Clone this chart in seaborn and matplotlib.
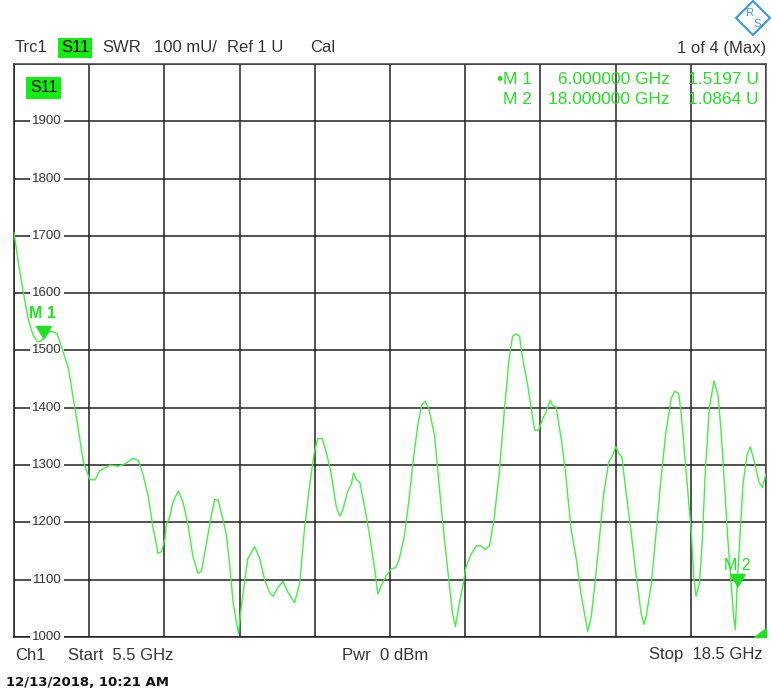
import numpy as np
import pandas as pd
import seaborn as sns
import matplotlib.pyplot as plt
from matplotlib.patches import Polygon

# trace data (GHz, mU)
freq_ghz = [5.50, 5.58, 5.66, 5.75, 5.83, 5.90, 5.95, 6.00, 6.03, 6.12, 6.24, 6.32, 6.44, 6.52,
            6.60, 6.70, 6.81, 6.90, 6.98, 7.16, 7.30, 7.42, 7.56, 7.65, 7.73, 7.82, 7.90, 7.99,
            8.05, 8.11, 8.13, 8.19, 8.25, 8.34, 8.42, 8.51, 8.59, 8.68, 8.74, 8.82, 8.91, 8.97,
            9.03, 9.08, 9.17, 9.23, 9.29, 9.35, 9.38, 9.41, 9.46, 9.54, 9.66, 9.75, 9.83, 9.92,
            9.98, 10.06, 10.15, 10.23, 10.35, 10.44, 10.52, 10.61, 10.69, 10.75, 10.83, 10.90,
            10.98, 11.07, 11.13, 11.18, 11.27, 11.33, 11.37, 11.41, 11.48, 11.56, 11.64, 11.73,
            11.79, 11.85, 11.93, 12.02, 12.10, 12.16, 12.25, 12.33, 12.39, 12.48, 12.55, 12.61,
            12.67, 12.77, 12.85, 12.94, 13.03, 13.08, 13.13, 13.19, 13.26, 13.31, 13.40, 13.49,
            13.57, 13.65, 13.72, 13.80, 13.89, 13.98, 14.06, 14.12, 14.18, 14.24, 14.29, 14.38,
            14.44, 14.50, 14.57, 14.64, 14.70, 14.77, 14.81, 14.87, 14.96, 15.04, 15.13, 15.22,
            15.30, 15.37, 15.42, 15.48, 15.55, 15.62, 15.69, 15.78, 15.85, 15.90, 15.96, 16.01,
            16.08, 16.17, 16.25, 16.34, 16.39, 16.43, 16.52, 16.60, 16.69, 16.77, 16.86, 16.92,
            16.99, 17.03, 17.09, 17.15, 17.21, 17.25, 17.29, 17.35, 17.40, 17.45, 17.52, 17.60,
            17.67, 17.72, 17.78, 17.84, 17.90, 17.94, 17.97, 18.00, 18.04, 18.10, 18.17, 18.23,
            18.30, 18.38, 18.44, 18.50]
swr_mu = [1706, 1650, 1602, 1553, 1527, 1516, 1515, 1520, 1524, 1534, 1530, 1507, 1469, 1420,
          1370, 1305, 1275, 1274, 1290, 1300, 1298, 1302, 1312, 1308, 1284, 1246, 1193, 1146,
          1149, 1171, 1195, 1209, 1236, 1255, 1236, 1195, 1142, 1111, 1115, 1159, 1212, 1240,
          1239, 1218, 1180, 1124, 1059, 1024, 1006, 1036, 1077, 1136, 1158, 1136, 1101, 1077,
          1071, 1086, 1097, 1079, 1060, 1094, 1187, 1264, 1322, 1346, 1346, 1322,
          1287, 1228, 1211, 1220, 1255, 1266, 1286, 1276, 1269, 1228, 1181, 1122,
          1075, 1090, 1106, 1119, 1121, 1136, 1177, 1241, 1299, 1370, 1405, 1411,
          1399, 1352, 1264, 1171, 1089, 1042, 1018, 1054, 1089, 1121, 1144, 1159,
          1159, 1153, 1159, 1206, 1288, 1399, 1487, 1525, 1529, 1525, 1487, 1440,
          1399, 1361, 1361, 1381, 1393, 1413, 1404, 1402, 1346, 1282, 1188, 1136,
          1077, 1036, 1010, 1036, 1101, 1171, 1247, 1305, 1317, 1332, 1320, 1314,
          1253, 1182, 1112, 1042, 1022, 1036, 1095, 1182, 1282, 1358, 1416, 1429,
          1425, 1393, 1323, 1253, 1182, 1106, 1071, 1095, 1171, 1288, 1399, 1447,
          1422, 1364, 1270, 1171, 1089, 1036, 1013, 1086, 1159, 1264, 1317, 1332,
          1305, 1270, 1261, 1285]

marker_names = ["M 1", "M 2"]
marker_freq = [6.0, 18.0]
marker_val = [1519.7, 1086.4]
marker_freq_txt = ["6.000000 GHz", "18.000000 GHz"]
marker_val_txt = ["1.5197 U", "1.0864 U"]
y_ticks = [1000, 1100, 1200, 1300, 1400, 1500, 1600, 1700, 1800, 1900]

GREEN = "#22e022"
TXT = "#333333"
W, H = 771, 697

sns.set_style("white")
plt.rcParams["font.family"] = ["Liberation Sans", "DejaVu Sans"]

def fx(x):
    return x / W

def fy(y):
    return 1 - y / H

fig = plt.figure(figsize=(W / 100, H / 100), dpi=100)
ax = fig.add_axes([fx(14), fy(637), (766 - 14) / W, (637 - 64) / H])

df = pd.DataFrame({"f": freq_ghz, "swr": swr_mu})
sns.lineplot(data=df, x="f", y="swr", ax=ax, color="#44ee44", lw=1.0, zorder=6)

ax.set_xlim(5.5, 18.5)
ax.set_ylim(1000, 2000)
ax.set_xticks(np.linspace(5.5, 18.5, 11))
ax.set_yticks(np.arange(1000, 2001, 100))
ax.grid(True, color="#222222", lw=1.1)
ax.tick_params(length=0, labelleft=False, labelbottom=False)
ax.set_xlabel("")
ax.set_ylabel("")
for side in ax.spines:
    ax.spines[side].set_color("#444444")
    ax.spines[side].set_linewidth(1.1)
ax.spines["left"].set_color("#222222")
ax.spines["bottom"].set_color("#222222")

# y labels sit inside the grid with a white patch behind
for v in y_ticks:
    ax.text(0.044, v, str(v), transform=ax.get_yaxis_transform(), ha="center", va="center",
            fontsize=9.5, color=TXT, zorder=4,
            bbox=dict(facecolor="white", edgecolor="none", pad=1.5))

# markers: triangle with its tip on the trace
tri = [(-0.6, 1.0), (0.6, 1.0), (0.0, 0.0)]
for name, f, v in zip(marker_names, marker_freq, marker_val):
    ax.plot([f], [v], marker=tri, ms=18.7, color=GREEN, mec=GREEN, ls="none", zorder=7)
bold = ["bold", "normal"]
offs = [45, 38]
for name, f, v, b, o in zip(marker_names, marker_freq, marker_val, bold, offs):
    ax.text(f, v + o, name, ha="center", va="center", fontsize=11.5, color=GREEN,
            fontweight=b, zorder=7)

# S11 tag inside plot
fig.text(fx(30), fy(88), "S11", fontsize=11.5, va="center", ha="left", color="black",
         bbox=dict(facecolor="#11ee11", edgecolor="none", pad=2.5), zorder=8)

# marker readout
row_y = [80, 99]
names = ["•M 1", "M 2"]
for a, b, c, y in zip(names, marker_freq_txt, marker_val_txt, row_y):
    fig.text(fx(532), fy(y), a, ha="right", va="center", fontsize=12.5, color=GREEN)
    fig.text(fx(670), fy(y), b, ha="right", va="center", fontsize=12.5, color=GREEN)
    fig.text(fx(759), fy(y), c, ha="right", va="center", fontsize=12.5, color=GREEN)

# header line
hdr_y = fy(48)
fig.text(fx(15), hdr_y, "Trc1", fontsize=12, va="center", color=TXT)
fig.text(fx(61), hdr_y, "S11", fontsize=12, va="center", color="black",
         bbox=dict(facecolor="#11ee11", edgecolor="none", pad=2.0))
fig.text(fx(102), hdr_y, "SWR", fontsize=12, va="center", color=TXT)
fig.text(fx(154), hdr_y, "100 mU/", fontsize=12, va="center", color=TXT)
fig.text(fx(227), hdr_y, "Ref 1 U", fontsize=12, va="center", color=TXT)
fig.text(fx(310), hdr_y, "Cal", fontsize=12, va="center", color=TXT)
fig.text(fx(766), hdr_y, "1 of 4 (Max)", fontsize=12, va="center", ha="right", color=TXT)

# footer
ft_y = fy(655)
fig.text(fx(15), ft_y, "Ch1", fontsize=12, va="center", color=TXT)
fig.text(fx(68), ft_y, "Start  5.5 GHz", fontsize=12, va="center", color=TXT)
fig.text(fx(385), ft_y, "Pwr  0 dBm", fontsize=12, va="center", ha="center", color=TXT)
fig.text(fx(763), ft_y, "Stop  18.5 GHz", fontsize=12, va="center", ha="right", color=TXT)
fig.text(fx(6), fy(682), "12/13/2018, 10:21 AM", fontsize=9.5, va="center",
         fontweight="bold", family="DejaVu Sans", color="#111111")

# little green wedge in the bottom-right corner
fig.patches.append(Polygon([(fx(754), fy(637)), (fx(766), fy(637)), (fx(766), fy(628))],
                           closed=True, transform=fig.transFigure, color=GREEN, zorder=6))

# logo diamond top-right
cx, cy, r = 753, 18, 17
logo = Polygon([(fx(cx), fy(cy - r)), (fx(cx + r), fy(cy)), (fx(cx), fy(cy + r)), (fx(cx - r), fy(cy))],
               closed=True, transform=fig.transFigure, facecolor="white", edgecolor="#3a9ad9", lw=1.5)
fig.patches.append(logo)
fig.text(fx(cx - 4), fy(cy - 5), "R", fontsize=8, color="#3a9ad9", ha="center", va="center")
fig.text(fx(cx + 4), fy(cy + 6), "S", fontsize=8, color="#3a9ad9", ha="center", va="center")

fig.savefig("out.png", dpi=100)
